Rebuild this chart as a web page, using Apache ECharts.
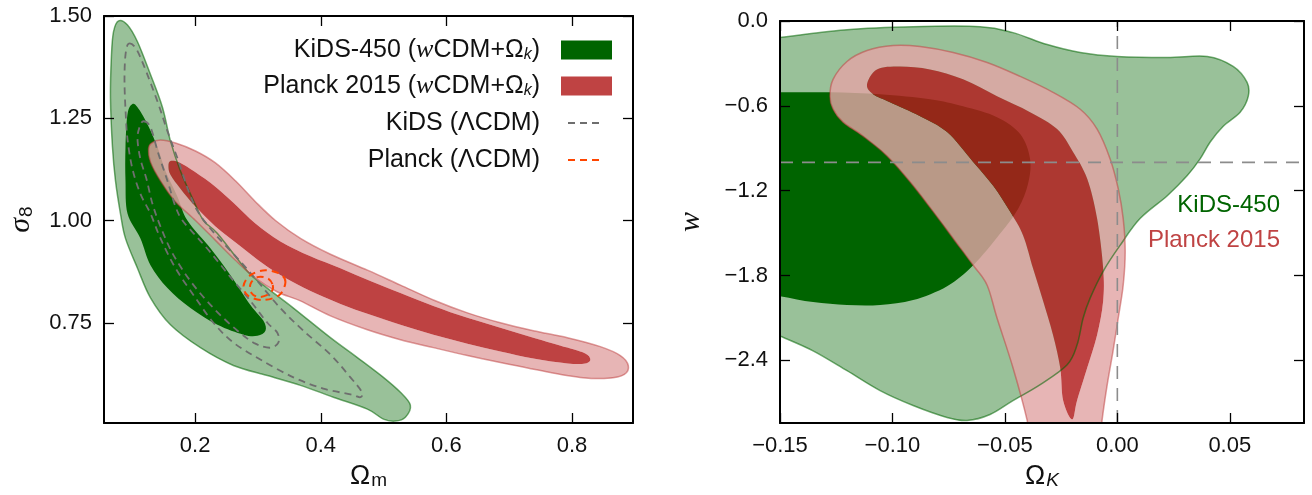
<!DOCTYPE html>
<html><head><meta charset="utf-8">
<script src="https://cdn.jsdelivr.net/npm/echarts@6/dist/echarts.min.js"></script>
<style>html,body{margin:0;padding:0;background:#fff}#c{width:1312px;height:495px}</style>
</head><body><div id="c"></div>
<script>
// ---------- axis ranges and ticks ----------
const xRangeL = [0.055, 0.897];
const yRangeL = [0.505, 1.5];
const xTicksL = [0.2, 0.4, 0.6, 0.8];
const yTicksL = [0.75, 1.0, 1.25, 1.5];
const xRangeR = [-0.15, 0.083];
const yRangeR = [-2.843, 0];
const xTicksR = [-0.15, -0.10, -0.05, 0.0, 0.05];
const yTicksR = [-2.4, -1.8, -1.2, -0.6, 0.0];
const refW = -1;   // w = -1 reference
const refOk = 0;   // Omega_K = 0 reference

// ---------- left panel contours (Omega_m, sigma_8) ----------
const kids95L = [[0.0781,1.488],[0.0924,1.478],[0.1083,1.437],[0.129,1.357],[0.148,1.277],[0.1608,1.194],[0.1767,1.121],[0.1974,1.049],[0.2133,1.0],[0.2356,0.968],[0.2833,0.876],[0.3088,0.842],[0.3565,0.786],[0.4154,0.7136],[0.4583,0.665],[0.4997,0.6166],[0.5268,0.580],[0.5426,0.5485],[0.5347,0.519],[0.5188,0.5097],[0.4997,0.5145],[0.4743,0.5388],[0.4201,0.568],[0.3677,0.597],[0.315,0.621],[0.261,0.6456],[0.2085,0.689],[0.1608,0.745],[0.129,0.811],[0.1083,0.8835],[0.0892,0.9563],[0.0812,1.017],[0.0733,1.097],[0.0685,1.1796],[0.0653,1.301],[0.0669,1.405],[0.0701,1.461]];
const kids68L = [[0.0998,1.284],[0.1083,1.2767],[0.1242,1.2354],[0.1401,1.1796],[0.1528,1.121],[0.1719,1.0583],[0.1878,1.0],[0.2244,0.932],[0.2563,0.8665],[0.288,0.7937],[0.3088,0.7548],[0.312,0.7306],[0.2992,0.7184],[0.2769,0.7209],[0.2356,0.745],[0.1926,0.786],[0.156,0.835],[0.129,0.8908],[0.113,0.9563],[0.0924,1.017],[0.0892,1.097],[0.0892,1.1796],[0.0924,1.2597]];
const planck95L = [[0.1258,1.1748],[0.1306,1.1893],[0.1449,1.1966],[0.1688,1.1893],[0.2006,1.1699],[0.2324,1.1408],[0.2642,1.0971],[0.296,1.0461],[0.3279,1.0],[0.3677,0.9563],[0.4154,0.9175],[0.4743,0.8786],[0.5268,0.8422],[0.5793,0.8058],[0.6334,0.7743],[0.6859,0.75],[0.7384,0.7306],[0.7925,0.7136],[0.845,0.6917],[0.8768,0.6699],[0.8895,0.6456],[0.8832,0.6238],[0.8561,0.6141],[0.8132,0.6165],[0.7655,0.6286],[0.6859,0.6529],[0.6334,0.6699],[0.5793,0.6893],[0.5268,0.7087],[0.4743,0.733],[0.4154,0.767],[0.3677,0.8034],[0.3311,0.8253],[0.296,0.8592],[0.2642,0.9029],[0.2324,0.9515],[0.2006,1.0],[0.1688,1.0461],[0.1449,1.0971],[0.129,1.1432]];
const planck68L = [[0.1576,1.1335],[0.1608,1.1456],[0.1735,1.1432],[0.1926,1.1262],[0.2244,1.0922],[0.261,1.0437],[0.296,0.9927],[0.3358,0.949],[0.3836,0.9126],[0.4313,0.8835],[0.479,0.8519],[0.5268,0.8228],[0.5793,0.7913],[0.6334,0.7621],[0.6859,0.7379],[0.7384,0.7136],[0.7925,0.6893],[0.8211,0.6748],[0.8291,0.6602],[0.8211,0.6505],[0.7925,0.6505],[0.7384,0.6626],[0.6859,0.6796],[0.6334,0.699],[0.5793,0.7209],[0.5268,0.7451],[0.479,0.7694],[0.4313,0.7961],[0.3836,0.8277],[0.3438,0.8592],[0.3072,0.8956],[0.2722,0.9369],[0.2324,0.9854],[0.2006,1.034],[0.1767,1.0777],[0.1608,1.1117]];
const kidsLcdm95 = [[0.094,1.432],[0.1051,1.4223],[0.1178,1.381],[0.1401,1.291],[0.156,1.2184],[0.1735,1.1456],[0.1894,1.0728],[0.2053,1.0194],[0.2323,0.966],[0.2674,0.9078],[0.2992,0.852],[0.3356,0.786],[0.3724,0.7306],[0.4154,0.6723],[0.4472,0.6166],[0.4647,0.5825],[0.4631,0.568],[0.4472,0.5752],[0.404,0.589],[0.3565,0.6166],[0.3038,0.6602],[0.261,0.7015],[0.2292,0.75],[0.2005,0.811],[0.1688,0.8835],[0.1449,0.9563],[0.129,1.017],[0.113,1.065],[0.1003,1.126],[0.0924,1.199],[0.0892,1.2718],[0.0876,1.3447],[0.0892,1.405]];
const kidsLcdm68 = [[0.1178,1.2427],[0.129,1.228],[0.1417,1.1626],[0.156,1.097],[0.1688,1.034],[0.1799,1.0],[0.2021,0.9612],[0.2244,0.9223],[0.2563,0.8617],[0.288,0.8034],[0.315,0.75],[0.3309,0.7257],[0.3325,0.7015],[0.3197,0.689],[0.296,0.699],[0.2674,0.7306],[0.2292,0.786],[0.1926,0.852],[0.164,0.92],[0.1449,0.9854],[0.1321,1.041],[0.1226,1.1015],[0.113,1.15],[0.1083,1.199],[0.1115,1.228]];
const planckLcdm95 = [[0.3438,0.8495],[0.3358,0.8689],[0.312,0.8786],[0.2881,0.8665],[0.277,0.8398],[0.2849,0.8155],[0.3088,0.8058],[0.3342,0.818]];
const planckLcdm68 = [[0.3231,0.8447],[0.3151,0.8592],[0.2992,0.8616],[0.2881,0.8447],[0.2897,0.8228],[0.3008,0.8131],[0.3151,0.818],[0.3231,0.8301]];

// ---------- right panel contours (Omega_K, w) ----------
const kids95R = [[-0.1678,-0.1667],[-0.15,-0.1174],[-0.1202,-0.0612],[-0.0908,-0.0401],[-0.061,-0.0401],[-0.0464,-0.0823],[-0.0312,-0.1667],[-0.0165,-0.2229],[-0.0001,-0.2511],[0.0222,-0.2581],[0.04,-0.2511],[0.0515,-0.3214],[0.0577,-0.4346],[0.0582,-0.5331],[0.0546,-0.6457],[0.0471,-0.7441],[0.0413,-0.8558],[0.0368,-0.9753],[0.031,-1.0949],[0.0222,-1.2356],[0.0101,-1.3973],[0.0012,-1.5872],[-0.0063,-1.77],[-0.0121,-1.9599],[-0.0152,-2.1005],[-0.0179,-2.2904],[-0.0223,-2.431],[-0.0343,-2.5717],[-0.0464,-2.6842],[-0.0566,-2.7826],[-0.0668,-2.8248],[-0.0757,-2.8037],[-0.0908,-2.7194],[-0.1055,-2.614],[-0.1202,-2.4733],[-0.1353,-2.3326],[-0.15,-2.2272],[-0.1678,-2.1005]];
const kids68R = [[-0.1678,-0.5042],[-0.15,-0.5042],[-0.1278,-0.5042],[-0.1055,-0.5183],[-0.0833,-0.5534],[-0.0686,-0.6034],[-0.0535,-0.68],[-0.0432,-0.7996],[-0.0388,-0.9754],[-0.0397,-1.1512],[-0.0441,-1.327],[-0.0521,-1.5028],[-0.0641,-1.7278],[-0.0757,-1.8755],[-0.0908,-1.9739],[-0.1055,-2.0091],[-0.1202,-2.0091],[-0.1353,-1.988],[-0.15,-1.9458],[-0.1678,-1.9036]];
const planck95R = [[-0.1278,-0.5323],[-0.1264,-0.4128],[-0.1202,-0.2862],[-0.1113,-0.2089],[-0.0997,-0.1737],[-0.0877,-0.1807],[-0.073,-0.2229],[-0.0579,-0.2932],[-0.0432,-0.3917],[-0.0286,-0.5042],[-0.0165,-0.6238],[-0.009,-0.7644],[-0.0032,-0.9754],[0.0004,-1.1863],[0.0026,-1.3973],[0.0035,-1.6294],[0.0026,-1.8685],[0.0004,-2.1005],[-0.0019,-2.3326],[-0.0045,-2.5717],[-0.0068,-2.8248],[-0.0077,-2.9795],[-0.0388,-2.9795],[-0.0401,-2.8248],[-0.0464,-2.4521],[-0.0535,-2.1005],[-0.0579,-1.8685],[-0.0641,-1.7278],[-0.073,-1.5379],[-0.0819,-1.348],[-0.0922,-1.1371],[-0.1024,-0.9543],[-0.1131,-0.8136],[-0.122,-0.7152],[-0.1264,-0.6238]];
const planck68R = [[-0.1113,-0.448],[-0.1069,-0.3425],[-0.0966,-0.3214],[-0.0833,-0.3425],[-0.0686,-0.4128],[-0.0535,-0.5323],[-0.0388,-0.6448],[-0.0268,-0.7644],[-0.0197,-0.9262],[-0.0134,-1.116],[-0.009,-1.3973],[-0.0063,-1.749],[-0.0063,-1.981],[-0.009,-2.2201],[-0.0134,-2.4522],[-0.0179,-2.6842],[-0.0201,-2.8179],[-0.0241,-2.6842],[-0.0254,-2.4522],[-0.0286,-2.2201],[-0.033,-1.981],[-0.0375,-1.749],[-0.0419,-1.5169],[-0.0477,-1.3481],[-0.0552,-1.1653],[-0.0641,-0.9965],[-0.0757,-0.7855],[-0.0877,-0.673],[-0.1011,-0.5745],[-0.1086,-0.5183]];

// ---------- styles ----------
const FONT = 'Liberation Sans';
const C = {
  greenLight: '#99c199', greenDark: '#006400', greenEdge: 'rgba(0,100,0,0.55)',
  redLight: 'rgba(226,165,165,0.82)', redDark: 'rgba(177,29,29,0.835)', redEdge: 'rgba(190,60,60,0.5)',
  grey: '#6e6e6e', orange: '#ff4500', ref: '#8c8c8c', text: '#111111',
  legendGreen: '#006400', legendRed: '#bf4343'
};

function closedPath(pts) {
  const n = pts.length;
  let d = 'M' + pts[0][0].toFixed(2) + ' ' + pts[0][1].toFixed(2);
  const t = 1 / 6;
  for (let i = 0; i < n; i++) {
    const p0 = pts[(i - 1 + n) % n], p1 = pts[i], p2 = pts[(i + 1) % n], p3 = pts[(i + 2) % n];
    const c1 = [p1[0] + (p2[0] - p0[0]) * t, p1[1] + (p2[1] - p0[1]) * t];
    const c2 = [p2[0] - (p3[0] - p1[0]) * t, p2[1] - (p3[1] - p1[1]) * t];
    d += ' C' + c1[0].toFixed(2) + ' ' + c1[1].toFixed(2) + ' ' + c2[0].toFixed(2) + ' ' + c2[1].toFixed(2) + ' ' + p2[0].toFixed(2) + ' ' + p2[1].toFixed(2);
  }
  return d + ' Z';
}
function signedArea(p) {
  let s = 0;
  for (let i = 0; i < p.length; i++) { const a = p[i], b = p[(i + 1) % p.length]; s += a[0] * b[1] - b[0] * a[1]; }
  return s;
}
let zc = 2;
function contour(axisPair, outer, hole, style) {
  return {
    type: 'custom', coordinateSystem: 'cartesian2d', xAxisIndex: axisPair[0], yAxisIndex: axisPair[1],
    clip: true, silent: true, z: zc++, data: outer, encode: { x: 0, y: 1 },
    renderItem: function (params, api) {
      if (params.dataIndex !== 0) return null;
      const o = outer.map(p => api.coord(p));
      let d = closedPath(o);
      if (hole) {
        let h = hole.map(p => api.coord(p));
        if (Math.sign(signedArea(h)) === Math.sign(signedArea(o))) h = h.slice().reverse();
        d += ' ' + closedPath(h);
      }
      return { type: 'path', shape: { pathData: d }, style: Object.assign({}, style) };
    }
  };
}

const L = [0, 0], R = [2, 2];
const dashGrey = { fill: 'none', stroke: C.grey, lineWidth: 1.8, lineDash: [7, 5] };
const dashOrange = { fill: 'none', stroke: C.orange, lineWidth: 2, lineDash: [7, 5] };
const series = [
  // left panel fills
  contour(L, kids95L, null, { fill: C.greenLight }),
  contour(L, kids68L, null, { fill: C.greenDark }),
  contour(L, planck95L, planck68L, { fill: C.redLight }),
  contour(L, planck68L, null, { fill: C.redDark }),
  // left panel lines
  contour(L, kids95L, null, { fill: 'none', stroke: C.greenEdge, lineWidth: 1.5 }),
  contour(L, planck95L, null, { fill: 'none', stroke: C.redEdge, lineWidth: 1.5 }),
  contour(L, kidsLcdm95, null, dashGrey),
  contour(L, kidsLcdm68, null, dashGrey),
  contour(L, planckLcdm95, null, dashOrange),
  contour(L, planckLcdm68, null, dashOrange),
  // right panel fills
  contour(R, kids95R, null, { fill: C.greenLight }),
  contour(R, kids68R, null, { fill: C.greenDark }),
  contour(R, planck95R, planck68R, { fill: C.redLight }),
  contour(R, planck68R, null, { fill: C.redDark }),
  contour(R, kids95R, null, { fill: 'none', stroke: C.greenEdge, lineWidth: 1.5 }),
  contour(R, planck95R, null, { fill: 'none', stroke: C.redEdge, lineWidth: 1.5 }),
  {
    type: 'custom', coordinateSystem: 'cartesian2d', xAxisIndex: 2, yAxisIndex: 2, clip: true, silent: true, z: zc++,
    data: [[refOk, refW]], encode: { x: 0, y: 1 },
    renderItem: function (params, api) {
      const h1 = api.coord([xRangeR[0], refW]), h2 = api.coord([xRangeR[1], refW]);
      const v1 = api.coord([refOk, yRangeR[0]]), v2 = api.coord([refOk, yRangeR[1]]);
      const st = { stroke: C.ref, lineWidth: 1.6, lineDash: [13, 9] };
      return { type: 'group', children: [
        { type: 'line', shape: { x1: h1[0], y1: h1[1], x2: h2[0], y2: h2[1] }, style: Object.assign({}, st) },
        { type: 'line', shape: { x1: v1[0], y1: v1[1], x2: v2[0], y2: v2[1] }, style: Object.assign({}, st) }
      ] };
    }
  }
];

const axLine = { show: true, onZero: false, lineStyle: { color: '#000', width: 2 } };
const tick = vals => ({ show: true, inside: true, length: 10, customValues: vals, lineStyle: { color: '#000', width: 1.3 } });
const lab = (vals, fmt) => ({ show: true, customValues: vals, formatter: fmt, fontSize: 22, fontFamily: FONT, color: C.text, margin: 12 });
const noLab = { show: false };
const noSplit = { show: false };
const minus = s => s.replace('-', '\u2212');

const subRich = {
  s: { fontSize: 19, fontFamily: FONT, color: C.text, verticalAlign: 'bottom', padding: [0, 0, 0, 1] },
  si: { fontSize: 19, fontFamily: FONT, fontStyle: 'italic', color: C.text, verticalAlign: 'bottom', padding: [0, 0, 0, 1] },
  g: { fontSize: 30, fontFamily: 'Liberation Serif', fontStyle: 'italic', color: C.text }
};

const option = {
  animation: false,
  backgroundColor: '#fff',
  grid: [
    { left: 104, top: 16, width: 529, height: 410 },
    { left: 780, top: 21, width: 524, height: 405 }
  ],
  xAxis: [
    { gridIndex: 0, type: 'value', min: xRangeL[0], max: xRangeL[1], position: 'bottom', z: 50,
      axisLine: axLine, axisTick: tick(xTicksL), axisLabel: lab(xTicksL, v => v.toFixed(1)), splitLine: noSplit,
      name: 'Ω{s|m}', nameLocation: 'middle', nameGap: 40,
      nameTextStyle: { fontSize: 27, fontFamily: FONT, color: C.text, rich: subRich } },
    { gridIndex: 0, type: 'value', min: xRangeL[0], max: xRangeL[1], position: 'top', z: 50,
      axisLine: axLine, axisTick: tick(xTicksL), axisLabel: noLab, splitLine: noSplit },
    { gridIndex: 1, type: 'value', min: xRangeR[0], max: xRangeR[1], position: 'bottom', z: 50,
      axisLine: axLine, axisTick: tick(xTicksR), axisLabel: lab(xTicksR, v => minus(v.toFixed(2))), splitLine: noSplit,
      name: 'Ω{si|K}', nameLocation: 'middle', nameGap: 40,
      nameTextStyle: { fontSize: 27, fontFamily: FONT, color: C.text, rich: subRich } },
    { gridIndex: 1, type: 'value', min: xRangeR[0], max: xRangeR[1], position: 'top', z: 50,
      axisLine: axLine, axisTick: tick(xTicksR), axisLabel: noLab, splitLine: noSplit }
  ],
  yAxis: [
    { gridIndex: 0, type: 'value', min: yRangeL[0], max: yRangeL[1], position: 'left', z: 50,
      axisLine: axLine, axisTick: tick(yTicksL), axisLabel: lab(yTicksL, v => v.toFixed(2)), splitLine: noSplit,
      name: '{g|σ}{s|8}', nameLocation: 'middle', nameGap: 68, nameRotate: 90,
      nameTextStyle: { fontSize: 27, fontFamily: FONT, color: C.text, rich: subRich } },
    { gridIndex: 0, type: 'value', min: yRangeL[0], max: yRangeL[1], position: 'right', z: 50,
      axisLine: axLine, axisTick: tick(yTicksL), axisLabel: noLab, splitLine: noSplit },
    { gridIndex: 1, type: 'value', min: yRangeR[0], max: yRangeR[1], position: 'left', z: 50,
      axisLine: axLine, axisTick: tick(yTicksR), axisLabel: lab(yTicksR, v => minus(v.toFixed(1))), splitLine: noSplit,
      name: '{g|w}', nameLocation: 'middle', nameGap: 74, nameRotate: 90,
      nameTextStyle: { fontSize: 27, fontFamily: FONT, color: C.text, rich: subRich } },
    { gridIndex: 1, type: 'value', min: yRangeR[0], max: yRangeR[1], position: 'right', z: 50,
      axisLine: axLine, axisTick: tick(yTicksR), axisLabel: noLab, splitLine: noSplit }
  ],
  graphic: (function () {
    const legRich = {
      i: { fontSize: 26, fontFamily: 'Liberation Serif', fontStyle: 'italic', fill: C.text },
      k: { fontSize: 16, fontFamily: FONT, fontStyle: 'italic', fill: C.text, verticalAlign: 'bottom' }
    };
    const items = [
      { text: 'KiDS-450 ({i|w}CDM+Ω{k|k})', y: 50, kind: 'rect', color: C.legendGreen },
      { text: 'Planck 2015 ({i|w}CDM+Ω{k|k})', y: 86, kind: 'rect', color: C.legendRed },
      { text: 'KiDS (ΛCDM)', y: 123, kind: 'dash', color: C.grey },
      { text: 'Planck (ΛCDM)', y: 160, kind: 'dash', color: C.orange }
    ];
    const els = [];
    items.forEach(it => {
      els.push({ type: 'text', x: 540, y: it.y, z: 100, style: { text: it.text, rich: legRich, align: 'right', verticalAlign: 'middle', fontSize: 25, fontFamily: FONT, fill: C.text } });
      if (it.kind === 'rect') els.push({ type: 'rect', z: 100, shape: { x: 561, y: it.y - 9.5, width: 51, height: 19 }, style: { fill: it.color } });
      else els.push({ type: 'line', z: 100, shape: { x1: 568, y1: it.y, x2: 604, y2: it.y }, style: { stroke: it.color, lineWidth: 1.8, lineDash: [7, 5] } });
    });
    els.push({ type: 'text', x: 1280, y: 205, z: 100, style: { text: 'KiDS-450', align: 'right', verticalAlign: 'middle', fontSize: 24, fontFamily: FONT, fill: C.legendGreen } });
    els.push({ type: 'text', x: 1280, y: 240, z: 100, style: { text: 'Planck 2015', align: 'right', verticalAlign: 'middle', fontSize: 24, fontFamily: FONT, fill: C.legendRed } });
    return els;
  })(),
  series: series
};

const chart = echarts.init(document.getElementById('c'), null, { renderer: 'canvas' });
chart.setOption(option);
</script></body></html>
